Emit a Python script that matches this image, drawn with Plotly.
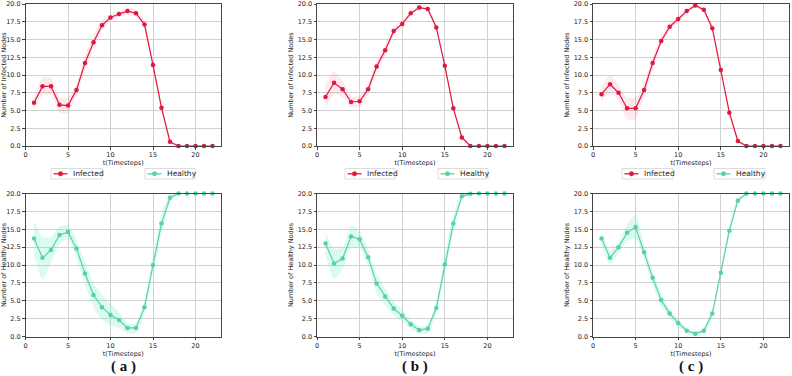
import plotly.graph_objects as go

t = list(range(1, 23))

# Panel (a)
inf_a = [6.1, 8.4, 8.4, 5.8, 5.7, 7.9, 11.7, 14.6, 17.0, 18.1, 18.6, 19.0, 18.7, 17.1, 11.4, 5.4, 0.6, 0, 0, 0, 0, 0]
inf_a_sd = [0.8, 1.3, 1.2, 1.1, 1.1, 0.9, 1.0, 1.0, 0.7, 0.5, 0.4, 0.5, 0.5, 0.6, 0.6, 0.5, 0.3, 0, 0, 0, 0, 0]
hea_a = [13.7, 11.0, 12.1, 14.2, 14.6, 12.3, 8.8, 5.8, 4.1, 3.0, 2.3, 1.2, 1.2, 4.1, 10.0, 15.8, 19.4, 20, 20, 20, 20, 20]
hea_a_sd = [2.4, 3.0, 1.8, 1.2, 1.0, 1.3, 1.6, 1.7, 1.8, 1.5, 1.1, 0.7, 0.7, 0.9, 1.0, 1.4, 0.6, 0, 0, 0, 0, 0]

# Panel (b)
inf_b = [6.9, 8.9, 8.0, 6.2, 6.3, 8.0, 11.2, 13.5, 16.2, 17.2, 18.7, 19.5, 19.3, 16.7, 11.3, 5.3, 1.2, 0, 0, 0, 0, 0]
inf_b_sd = [1.7, 1.6, 1.2, 0.7, 0.8, 0.7, 0.9, 0.9, 0.6, 0.5, 0.4, 0.3, 0.4, 0.5, 0.5, 0.4, 0.3, 0, 0, 0, 0, 0]
hea_b = [13.0, 10.2, 10.9, 14.0, 13.6, 11.1, 7.4, 5.6, 3.9, 2.9, 1.7, 0.9, 1.1, 4.0, 10.1, 15.8, 19.6, 19.95, 20, 20, 20, 20]
hea_b_sd = [1.6, 2.1, 1.5, 1.5, 1.2, 1.2, 1.3, 1.2, 1.0, 0.8, 0.6, 0.5, 0.6, 0.9, 1.1, 1.2, 0.4, 0, 0, 0, 0, 0]

# Panel (c)
inf_c = [7.3, 8.7, 7.5, 5.3, 5.3, 7.9, 11.7, 14.8, 16.8, 17.9, 19.0, 19.8, 19.2, 16.6, 10.7, 4.7, 0.7, 0, 0, 0, 0, 0]
inf_c_sd = [1.0, 1.3, 1.1, 1.5, 1.5, 1.0, 1.0, 0.8, 0.6, 0.5, 0.4, 0.3, 0.4, 0.5, 0.5, 0.4, 0.3, 0, 0, 0, 0, 0]
hea_c = [13.7, 11.0, 12.5, 14.5, 15.3, 11.8, 8.2, 5.1, 3.2, 1.9, 0.8, 0.4, 0.8, 3.2, 8.9, 14.8, 19.0, 20, 20, 20, 20, 20]
hea_c_sd = [0.9, 1.0, 0.8, 1.2, 1.7, 1.0, 1.0, 0.9, 0.6, 0.5, 0.4, 0.3, 0.4, 0.5, 0.6, 0.6, 0.4, 0, 0, 0, 0, 0]

panel_labels = ["( a )", "( b )", "( c )"]
series_names = ["Infected", "Healthy"]
y_titles = ["Number of Infected Nodes", "Number of Healthy Nodes"]
y_ticks = [0, 2.5, 5, 7.5, 10, 12.5, 15, 17.5, 20]
y_ticktext = ["0.0", "2.5", "5.0", "7.5", "10.0", "12.5", "15.0", "17.5", "20.0"]
x_ticks = [0, 5, 10, 15, 20]

RED = "#E0173F"
RED_FILL = "rgba(240,110,140,0.15)"
GREEN = "#55D3A4"
GREEN_FILL = "rgba(110,235,200,0.24)"

W, H = 792, 376
col_px = [(25.5, 221), (317, 513), (593, 789)]
row_px = [(4, 146), (193.5, 336.5)]

data = [
    [(inf_a, inf_a_sd), (hea_a, hea_a_sd)],
    [(inf_b, inf_b_sd), (hea_b, hea_b_sd)],
    [(inf_c, inf_c_sd), (hea_c, hea_c_sd)],
]
legend_px = [
    [(51, 102), (145, 195)],
    [(345, 395), (438, 488)],
    [(622, 673), (714, 765)],
]

fig = go.Figure()
layout = dict(width=W, height=H, margin=dict(l=0, r=0, t=0, b=0),
              paper_bgcolor="white", plot_bgcolor="white", showlegend=False)
annotations = []
shapes = []
axis_font = dict(family="DejaVu Sans", size=6.5, color="#222")

idx = 0
for c in range(3):
    for r in range(2):
        idx += 1
        xa = "x" if idx == 1 else f"x{idx}"
        ya = "y" if idx == 1 else f"y{idx}"
        xk = "xaxis" if idx == 1 else f"xaxis{idx}"
        yk = "yaxis" if idx == 1 else f"yaxis{idx}"
        vals, sd = data[c][r]
        fill = RED_FILL if r == 0 else GREEN_FILL
        upper = [v + s for v, s in zip(vals, sd)]
        lower = [v - s for v, s in zip(vals, sd)]
        fig.add_trace(go.Scatter(x=t, y=upper, mode="lines", line=dict(width=0, shape="spline", smoothing=0.6),
                                 showlegend=False, hoverinfo="skip", xaxis=xa, yaxis=ya))
        fig.add_trace(go.Scatter(x=t, y=lower, mode="lines", line=dict(width=0, shape="spline", smoothing=0.6),
                                 fill="tonexty", fillcolor=fill,
                                 showlegend=False, hoverinfo="skip", xaxis=xa, yaxis=ya))
        x0, x1 = col_px[c]
        y0, y1 = row_px[r]
        layout[xk] = dict(domain=[x0 / W, x1 / W], range=[0, 23], anchor=ya, automargin=False,
                          tickvals=x_ticks, showgrid=True, gridcolor="#d0d0d0", gridwidth=1,
                          showline=True, linecolor="#444", linewidth=1, mirror=True,
                          ticks="outside", ticklen=2.5, tickcolor="#444", tickfont=axis_font,
                          zeroline=False,
                          title=dict(text="t(Timesteps)", font=axis_font, standoff=2))
        layout[yk] = dict(domain=[1 - y1 / H, 1 - y0 / H], range=[0, 20], anchor=xa, automargin=False,
                          tickvals=y_ticks, ticktext=y_ticktext, showgrid=True, gridcolor="#d0d0d0", gridwidth=1,
                          showline=True, linecolor="#444", linewidth=1, mirror=True,
                          ticks="outside", ticklen=2.5, tickcolor="#444", tickfont=axis_font,
                          zeroline=False,
                          title=dict(text=y_titles[r], font=axis_font, standoff=3))
    # manual legend boxes for this column
    for s in range(2):
        color = RED if s == 0 else GREEN
        lx0, lx1 = legend_px[c][s]
        ly0, ly1, lyc = 168.5, 179, 173.8
        shapes.append(dict(type="rect", xref="paper", yref="paper",
                           x0=lx0 / W, x1=lx1 / W, y0=1 - ly1 / H, y1=1 - ly0 / H,
                           line=dict(color="#dcdcdc", width=1), fillcolor="white", layer="above"))
        shapes.append(dict(type="line", xref="paper", yref="paper",
                           x0=(lx0 + 2.5) / W, x1=(lx0 + 16.5) / W, y0=1 - lyc / H, y1=1 - lyc / H,
                           line=dict(color=color, width=1.3), layer="above"))
        shapes.append(dict(type="circle", xref="paper", yref="paper",
                           x0=(lx0 + 7.3) / W, x1=(lx0 + 11.7) / W, y0=1 - (lyc + 2.2) / H, y1=1 - (lyc - 2.2) / H,
                           line=dict(color=color, width=0.5), fillcolor=color, layer="above"))
        annotations.append(dict(text=series_names[s], x=(lx0 + 20) / W, y=1 - lyc / H,
                                xref="paper", yref="paper", showarrow=False,
                                xanchor="left", yanchor="middle",
                                font=dict(family="DejaVu Sans", size=7.5, color="#222")))
    annotations.append(dict(text=f"<b>{panel_labels[c]}</b>", x=(col_px[c][0] + col_px[c][1]) / 2 / W,
                            y=1 - 366 / H, xref="paper", yref="paper", showarrow=False,
                            font=dict(family="Liberation Serif", size=15, color="#111"),
                            xanchor="center", yanchor="middle"))

# main lines drawn on top of bands
idx = 0
for c in range(3):
    for r in range(2):
        idx += 1
        xa = "x" if idx == 1 else f"x{idx}"
        ya = "y" if idx == 1 else f"y{idx}"
        vals, sd = data[c][r]
        color = RED if r == 0 else GREEN
        fig.add_trace(go.Scatter(x=t, y=vals, mode="lines+markers", name=series_names[r],
                                 line=dict(color=color, width=1.2),
                                 marker=dict(size=4.5, color=color), showlegend=False,
                                 xaxis=xa, yaxis=ya, cliponaxis=False))

layout["annotations"] = annotations
layout["shapes"] = shapes
fig.update_layout(**layout)
fig.write_html("out.html", config={"displayModeBar": False},
               post_script=["document.body.style.margin='0';document.body.style.overflow='hidden';"])
